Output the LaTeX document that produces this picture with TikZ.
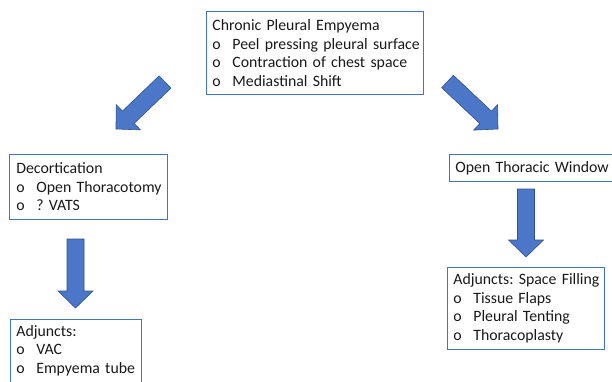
\documentclass[tikz,border=0pt]{standalone}
\usepackage{fontspec}
\setmainfont[WordSpace=0.5]{Carlito}
\frenchspacing
\usetikzlibrary{calc}
\definecolor{boxblue}{HTML}{4472C4}
\definecolor{arrowfill}{HTML}{4C76C8}
\definecolor{arrowline}{HTML}{2F528F}
\newcommand{\boxfont}{\fontsize{15.8}{18.5}\selectfont}
\newcommand{\bl}[1]{\mbox{\makebox[20pt][l]{o}#1}}
\newcommand{\tline}[1]{\mbox{#1}}
\newcommand{\blockarrow}[3]{%
  \coordinate (#3h) at ($(#2)!17pt!(#1)$);
  \draw[blockarrow]
    ($(#1)!8.5pt!90:(#2)$) --
    ($(#3h)!8.5pt!-90:(#1)$) --
    ($(#3h)!17.5pt!-90:(#1)$) --
    (#2) --
    ($(#3h)!17.5pt!90:(#1)$) --
    ($(#3h)!8.5pt!90:(#1)$) --
    ($(#1)!8.5pt!-90:(#2)$) -- cycle;
}
\begin{document}
\begin{tikzpicture}[x=1pt,y=-1pt,
  box/.style={draw=boxblue, line width=0.8pt, inner xsep=6pt, inner ysep=0pt,
    anchor=north west, align=left, font=\boxfont, text=black!90},
  blockarrow/.style={fill=arrowfill, draw=arrowline, line width=0.6pt, line join=miter}
]
\useasboundingbox (0,0) rectangle (612,381);

\node[box, text width=205pt, minimum height=83pt] (top) at (206,11)
  {\tline{Chronic Pleural Empyema}\\ \bl{Peel pressing pleural surface}\\ \bl{Contraction of chest space}\\ \bl{Mediastinal Shift}};

\node[box, text width=144pt, minimum height=65pt, inner xsep=7pt] (decort) at (9,154)
  {\tline{Decortication}\\ \bl{Open Thoracotomy}\\ \bl{? VATS}};

\node[box, text width=119pt, minimum height=78pt] (adjl) at (10,319)
  {\tline{Adjuncts:}\\ \bl{VAC}\\ \bl{Empyema tube}\\ \mbox{}};

\node[box, text width=150.5pt, minimum height=27pt] (otw) at (449,154)
  {\tline{Open Thoracic Window}};

\node[box, text width=145pt, minimum height=82pt] (adjr) at (447,267)
  {\tline{Adjuncts: Space Filling}\\ \bl{Tissue Flaps}\\ \bl{Pleural Tenting}\\ \bl{Thoracoplasty}};

\coordinate (a1t) at (165,82);
\coordinate (a1h) at (116,129);
\coordinate (a2t) at (447.5,81.5);
\coordinate (a2h) at (498,129);
\coordinate (a3t) at (75.5,239);
\coordinate (a3h) at (75.5,308);
\coordinate (a4t) at (526,189);
\coordinate (a4h) at (526,257);

\blockarrow{a1t}{a1h}{ha}
\blockarrow{a2t}{a2h}{hb}
\blockarrow{a3t}{a3h}{hc}
\blockarrow{a4t}{a4h}{hd}
\end{tikzpicture}
\end{document}
